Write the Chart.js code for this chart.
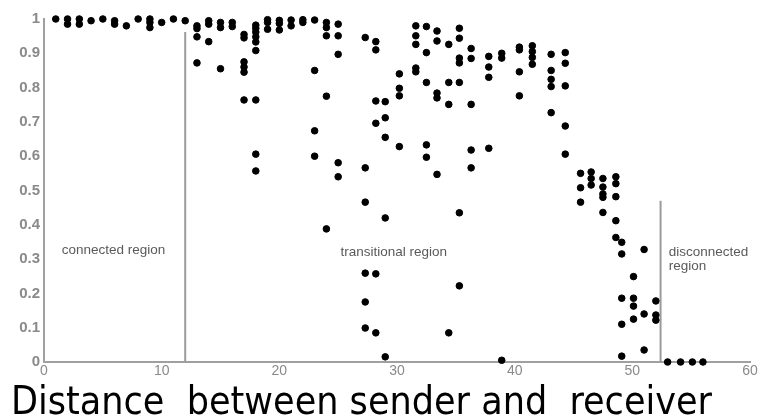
<!DOCTYPE html>
<html lang="en">
<head>
    <meta charset="UTF-8">
    <title>Reception rate vs distance</title>
    <script src="https://cdn.jsdelivr.net/npm/chart.js"></script>
    <style>
        html, body { margin: 0; padding: 0; background: #fff; }
        #wrap { width: 762px; height: 417px; }
    </style>
</head>
<body>
    <div id="wrap"><canvas id="chart" width="762" height="417"></canvas></div>
    <script>
        // distance (x) and reception ratio (y), one entry per point
        const distance = [
            1, 2, 2, 3, 3, 4, 5, 6, 6, 7, 8, 9, 9, 9, 10, 11, 12,
            13, 13, 13, 13, 14, 14, 14, 15, 15, 15, 16, 16,
            17, 17, 17, 17, 17, 17,
            18, 18, 18, 18, 18, 18, 18, 18, 18,
            19, 19, 19, 20, 20, 20, 21, 21, 22, 22,
            23, 23, 23, 23, 24, 24, 24, 24, 24, 25, 25, 25, 25, 25,
            27.3, 27.3, 27.3, 27.3, 27.3, 27.3,
            28.2, 28.2, 28.2, 28.2, 28.2, 28.2,
            29, 29, 29, 29, 29,
            30.2, 30.2, 30.2, 30.2,
            31.6, 31.6, 31.6, 31.6, 31.6,
            32.5, 32.5, 32.5, 32.5, 32.5,
            33.4, 33.4, 33.4, 33.4, 33.4,
            34.4, 34.4, 34.4, 34.4,
            35.3, 35.3, 35.3, 35.3, 35.3, 35.3, 35.3,
            36.3, 36.3, 36.3, 36.3, 36.3,
            37.8, 37.8, 37.8, 37.8,
            38.9, 38.9, 38.9,
            40.4, 40.4, 40.4, 40.4,
            41.5, 41.5, 41.5, 41.5,
            43.1, 43.1, 43.1, 43.1, 43.1,
            44.3, 44.3, 44.3, 44.3, 44.3,
            45.6, 45.6, 45.6,
            46.5, 46.5, 46.5,
            47.5, 47.5, 47.5, 47.5, 47.5,
            48.6, 48.6, 48.6, 48.6, 48.6,
            49.1, 49.1, 49.1, 49.1, 49.1,
            50.1, 50.1, 50.1, 50.1,
            51, 51, 51,
            52, 52, 52,
            53, 54.1, 55.1, 56
        ];
        const ratio = [
            1.0, 1.0, 0.985, 1.0, 0.985, 0.995, 1.0, 0.995, 0.985, 0.98, 1.0, 1.0, 0.99, 0.975, 0.99, 1.0, 0.995,
            0.98, 0.972, 0.948, 0.872, 0.995, 0.985, 0.934, 0.99, 0.975, 0.855, 0.99, 0.978,
            0.955, 0.945, 0.875, 0.86, 0.845, 0.764,
            0.982, 0.973, 0.962, 0.948, 0.933, 0.908, 0.764, 0.606, 0.557,
            0.998, 0.99, 0.97, 0.996, 0.987, 0.968, 0.997, 0.98, 0.998, 0.99,
            0.997, 0.85, 0.674, 0.6, 0.99, 0.975, 0.951, 0.775, 0.388, 0.985, 0.951, 0.897, 0.581, 0.54,
            0.946, 0.566, 0.466, 0.259, 0.175, 0.099,
            0.934, 0.91, 0.761, 0.696, 0.257, 0.085,
            0.759, 0.712, 0.655, 0.42, 0.015,
            0.84, 0.798, 0.776, 0.628,
            0.98, 0.951, 0.926, 0.857, 0.846,
            0.978, 0.902, 0.815, 0.633, 0.597,
            0.965, 0.936, 0.784, 0.77, 0.547,
            0.926, 0.815, 0.751, 0.085,
            0.973, 0.944, 0.886, 0.872, 0.815, 0.435, 0.222,
            0.914, 0.885, 0.751, 0.618, 0.566,
            0.891, 0.86, 0.83, 0.623,
            0.9, 0.886, 0.005,
            0.918, 0.91, 0.846, 0.776,
            0.922, 0.905, 0.888, 0.868,
            0.897, 0.85, 0.824, 0.803, 0.727,
            0.902, 0.871, 0.805, 0.688, 0.606,
            0.55, 0.508, 0.466,
            0.554, 0.535, 0.516,
            0.535, 0.51, 0.49, 0.48, 0.436,
            0.54, 0.52, 0.482, 0.412, 0.363,
            0.349, 0.315, 0.186, 0.11, 0.017,
            0.249, 0.186, 0.163, 0.125,
            0.328, 0.14, 0.035,
            0.178, 0.137, 0.122,
            0, 0, 0, 0
        ];

        // region borders: [distance, top of line]
        const borders = [[12, 0.962], [52.4, 0.47]];
        const regionLabels = ['connected region', 'transitional region', 'disconnected', 'region'];
        const xTitle = 'Distance  between sender and  receiver';

        const points = distance.map((d, i) => ({ x: d, y: ratio[i] }));

        const borderSets = borders.map(b => ({
            type: 'line',
            data: [{ x: b[0], y: 0 }, { x: b[0], y: b[1] }],
            borderColor: '#9b9b9b',
            borderWidth: 2,
            pointRadius: 0,
            showLine: true
        }));

        // region names and axis title
        const textPlugin = {
            id: 'texts',
            afterDraw(chart) {
                const ctx = chart.ctx;
                const xs = chart.scales.x, ys = chart.scales.y;
                ctx.save();
                ctx.fillStyle = '#5a5a5a';
                ctx.font = '13.5px "Liberation Sans", Arial, sans-serif';
                ctx.textBaseline = 'middle';
                ctx.textAlign = 'left';
                ctx.fillText(regionLabels[0], xs.getPixelForValue(1.5), ys.getPixelForValue(0.327));
                ctx.fillText(regionLabels[1], xs.getPixelForValue(25.2), ys.getPixelForValue(0.32));
                ctx.fillText(regionLabels[2], xs.getPixelForValue(53.1), ys.getPixelForValue(0.32));
                ctx.fillText(regionLabels[3], xs.getPixelForValue(53.1), ys.getPixelForValue(0.28));
                ctx.fillStyle = '#000';
                ctx.font = '39px "DejaVu Sans Condensed", "DejaVu Sans", sans-serif';
                ctx.textBaseline = 'alphabetic';
                ctx.fillText(xTitle, 11, 414);
                ctx.restore();
            }
        };

        const tickFont = { family: '"Liberation Sans", Arial, sans-serif', size: 15, weight: 'bold' };

        new Chart(document.getElementById('chart'), {
            type: 'scatter',
            data: {
                datasets: [{
                    data: points,
                    backgroundColor: '#000',
                    borderColor: '#000',
                    pointRadius: 3.3,
                    pointHoverRadius: 3.3,
                    clip: false
                }].concat(borderSets)
            },
            options: {
                responsive: false,
                animation: false,
                events: [],
                layout: { padding: { top: 19, right: 12, left: 0, bottom: 0 } },
                plugins: { legend: { display: false }, tooltip: { enabled: false } },
                scales: {
                    x: {
                        type: 'linear',
                        min: 0,
                        max: 60,
                        ticks: { stepSize: 10, color: '#8a8a8a', font: { family: '"Liberation Sans", Arial, sans-serif', size: 14 }, padding: 1 },
                        grid: { display: false, drawTicks: false },
                        border: { color: '#a0a0a0', width: 2 },
                        afterFit(scale) { scale.height = 55; }
                    },
                    y: {
                        min: 0,
                        max: 1,
                        ticks: {
                            stepSize: 0.1,
                            color: '#8a8a8a',
                            font: tickFont,
                            padding: 4,
                            callback: v => (v === 0 || v === 1) ? String(v) : v.toFixed(1)
                        },
                        grid: { display: false, drawTicks: false },
                        border: { color: '#a0a0a0', width: 2 },
                        afterFit(scale) { scale.width = 44; }
                    }
                }
            },
            plugins: [textPlugin]
        });
    </script>
</body>
</html>
